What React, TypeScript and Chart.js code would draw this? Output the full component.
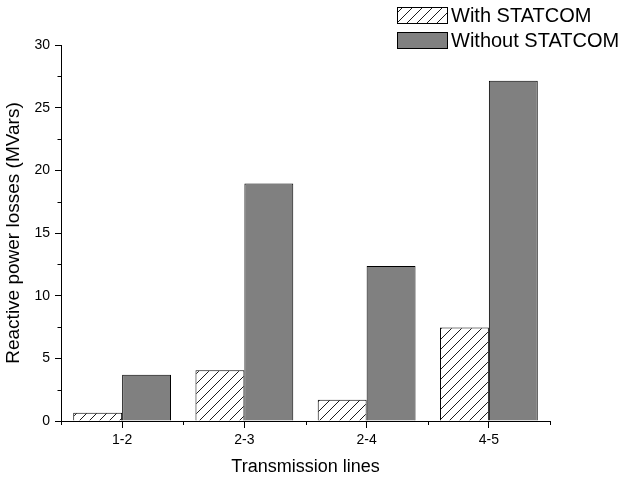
import { useEffect, useRef } from 'react';
import { Chart, registerables } from 'chart.js';

Chart.register(...registerables);

const categories = ['1-2', '2-3', '2-4', '4-5'];
const withStatcom = [0.66, 4.05, 1.7, 7.47];
const withoutStatcom = [3.7, 18.95, 12.36, 27.15];
const seriesLabels = ['With STATCOM', 'Without STATCOM'];
const yMinorTicks = [2.5, 7.5, 12.5, 17.5, 22.5, 27.5];
const xTitle = 'Transmission lines';
const yTitle = 'Reactive power losses (MVars)';

const FONT = "'Liberation Sans', Arial, sans-serif";
const GRAY = '#808080';

function makeHatch(ctxSrc: CanvasRenderingContext2D): CanvasPattern | string {
  const c = document.createElement('canvas');
  c.width = 10;
  c.height = 10;
  const g = c.getContext('2d');
  if (!g) return '#fff';
  g.fillStyle = '#fff';
  g.fillRect(0, 0, 10, 10);
  g.strokeStyle = '#000';
  g.lineWidth = 0.9;
  g.beginPath();
  g.moveTo(0, 10);
  g.lineTo(10, 0);
  g.moveTo(-5, 5);
  g.lineTo(5, -5);
  g.moveTo(5, 15);
  g.lineTo(15, 5);
  g.stroke();
  return ctxSrc.createPattern(c, 'repeat') || '#fff';
}

export default function App() {
  const ref = useRef<HTMLCanvasElement>(null);

  useEffect(() => {
    document.body.style.margin = '0';
    const canvas = ref.current;
    if (!canvas) return;
    const ctx0 = canvas.getContext('2d')!;
    const hatch = makeHatch(ctx0);

    const extraPlugin = {
      id: 'extraTicksLegend',
      afterDraw(chart: any) {
        const { ctx, scales } = chart;
        const x = scales.x;
        const y = scales.y;
        ctx.save();
        ctx.strokeStyle = '#000';
        ctx.lineWidth = 1;
        ctx.beginPath();
        for (const v of yMinorTicks) {
          const py = Math.round(y.getPixelForValue(v)) + 0.5;
          ctx.moveTo(y.right - 3.5, py);
          ctx.lineTo(y.right, py);
        }
        for (let i = 0; i <= categories.length; i++) {
          const px = Math.round(x.getPixelForValue(i - 0.5)) + 0.5;
          ctx.moveTo(px, x.top);
          ctx.lineTo(px, x.top + 4);
        }
        ctx.stroke();

        // legend
        const lx = chart.width - 228;
        const boxes = [
          { top: 7, fill: hatch, label: seriesLabels[0] },
          { top: 32, fill: GRAY, label: seriesLabels[1] },
        ];
        ctx.font = `20px ${FONT}`;
        ctx.textBaseline = 'middle';
        ctx.textAlign = 'left';
        for (const b of boxes) {
          ctx.fillStyle = b.fill as any;
          ctx.fillRect(lx, b.top, 50, 16);
          ctx.strokeStyle = '#000';
          ctx.lineWidth = 1;
          ctx.strokeRect(lx + 0.5, b.top + 0.5, 50, 16);
          ctx.fillStyle = '#000';
          ctx.fillText(b.label, lx + 54, b.top + 9);
        }
        ctx.restore();
      },
    };

    const chart = new Chart(canvas, {
      type: 'bar',
      data: {
        labels: categories,
        datasets: [
          {
            label: seriesLabels[0],
            data: withStatcom,
            backgroundColor: hatch as any,
            borderColor: '#000',
            borderWidth: 1,
            categoryPercentage: 0.8,
            barPercentage: 1.0,
          },
          {
            label: seriesLabels[1],
            data: withoutStatcom,
            backgroundColor: GRAY,
            borderColor: '#000',
            borderWidth: 1,
            categoryPercentage: 0.8,
            barPercentage: 1.0,
          },
        ],
      },
      options: {
        responsive: true,
        maintainAspectRatio: false,
        animation: false,
        layout: { padding: { top: 45, right: 75, left: 0, bottom: 0 } },
        plugins: {
          legend: { display: false },
          tooltip: { enabled: false },
        },
        scales: {
          x: {
            grid: {
              display: true,
              drawOnChartArea: false,
              offset: false,
              tickLength: 7,
              color: '#000',
            },
            border: { display: true, color: '#000', width: 1 },
            ticks: { color: '#000', font: { family: FONT, size: 14 }, padding: 4 },
            title: {
              display: true,
              text: xTitle,
              color: '#000',
              font: { family: FONT, size: 18 },
              padding: { top: 4, bottom: 2 },
            },
            afterFit(scale: any) {
              scale.height = 59;
            },
          },
          y: {
            min: 0,
            max: 30,
            grid: {
              display: true,
              drawOnChartArea: false,
              tickLength: 6,
              color: '#000',
            },
            border: { display: true, color: '#000', width: 1 },
            ticks: {
              stepSize: 5,
              color: '#000',
              font: { family: FONT, size: 14 },
              padding: 5,
            },
            title: {
              display: true,
              text: yTitle,
              color: '#000',
              font: { family: FONT, size: 19 },
              padding: { top: 2, bottom: 0 },
            },
            afterFit(scale: any) {
              scale.width = 61;
            },
          },
        },
      },
      plugins: [extraPlugin],
    });

    return () => chart.destroy();
  }, []);

  return (
    <div style={{ width: 625, height: 480, position: 'relative' }}>
      <canvas ref={ref} />
    </div>
  );
}
